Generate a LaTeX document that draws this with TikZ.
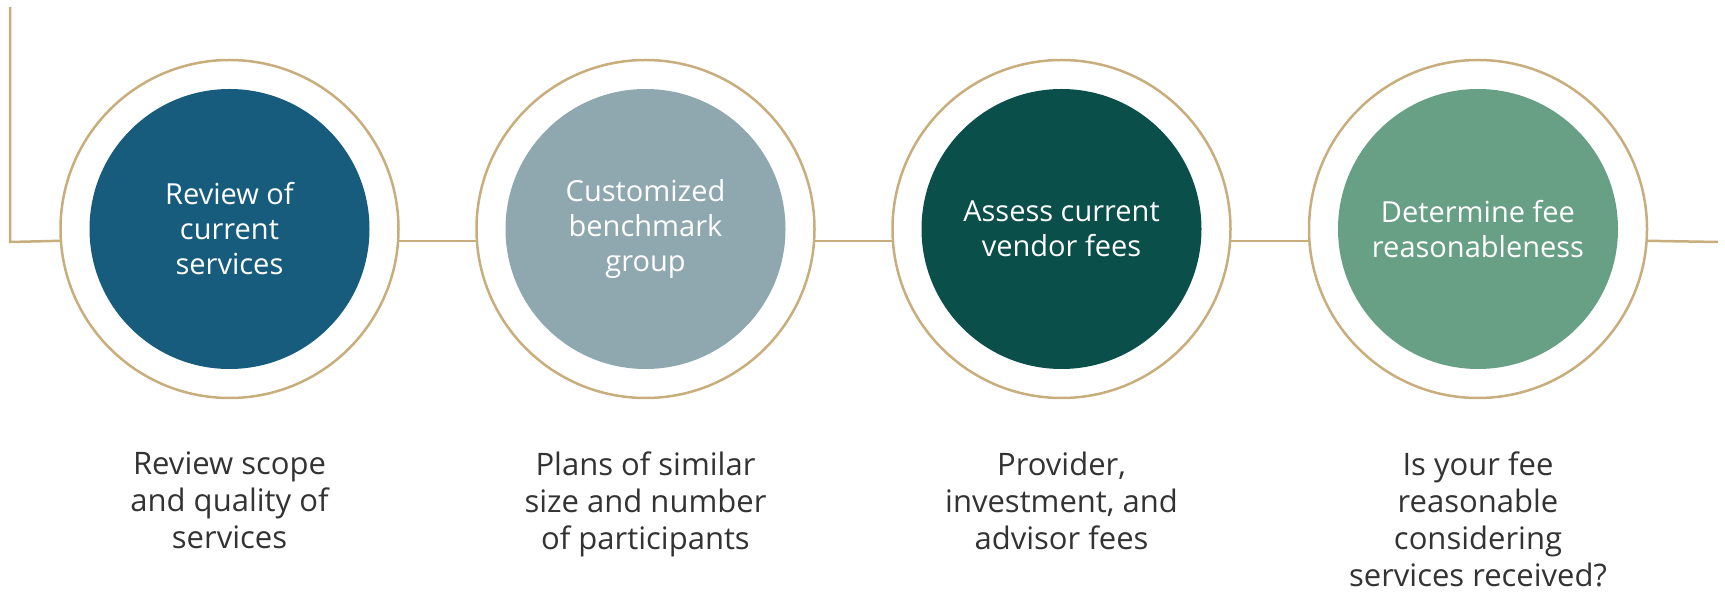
\documentclass[tikz,border=0pt]{standalone}
\usepackage{fontspec}
\setmainfont{Open Sans}
\definecolor{gold}{HTML}{C8AE7D}
\definecolor{cA}{HTML}{175C7D}
\definecolor{cB}{HTML}{8FA8AF}
\definecolor{cC}{HTML}{0B4F4A}
\definecolor{cD}{HTML}{68A086}
\definecolor{txt}{HTML}{333333}
\begin{document}
\begin{tikzpicture}[x=1pt,y=-1pt,
  ring/.style={circle,draw=gold,line width=2.5pt,fill=white,minimum size=338pt,inner sep=0pt,outer sep=0pt},
  disc/.style={circle,fill=#1,minimum size=280pt,inner sep=0pt,text=white,align=center,font=\fontsize{29}{35}\selectfont},
  link/.style={draw=gold,line width=2.5pt},
  desc/.style={anchor=north,inner sep=0pt,align=center,text=txt,font=\fontsize{31}{37}\selectfont}]
\useasboundingbox[fill=white] (0,0) rectangle (1725,593);
\coordinate (start) at (10,7);
\coordinate (corner) at (10,242);
\coordinate (end) at (1718,242);
\node[ring] (o1) at (229.5,229) {};
\node[ring] (o2) at (645.5,229) {};
\node[ring] (o3) at (1061.5,229) {};
\node[ring] (o4) at (1478,229) {};
\draw[link] (start) -- (corner) -- (o1.184.4);
\draw[link] (o1.-4.4) -- (o2.184.4);
\draw[link] (o2.-4.4) -- (o3.184.4);
\draw[link] (o3.-4.4) -- (o4.184.4);
\draw[link] (o4.-4.4) -- (end);
\node[disc=cA] (c1) at (o1) {Review of\\current\\services};
\node[disc=cB] (c2) at (o2) {Customized\\benchmark\\group};
\node[disc=cC] (c3) at (o3) {Assess current\\vendor fees};
\node[disc=cD] (c4) at (o4) {Determine fee\\reasonableness};
\node[desc] (d1) at (229.5,452) {Review scope\\and quality of\\services};
\node[desc] (d2) at (645.5,452) {Plans of similar\\size and number\\of participants};
\node[desc] (d3) at (1061.5,452) {Provider,\\investment, and\\advisor fees};
\node[desc] (d4) at (1478,452) {Is your fee\\reasonable\\considering\\services received?};
\end{tikzpicture}
\end{document}
